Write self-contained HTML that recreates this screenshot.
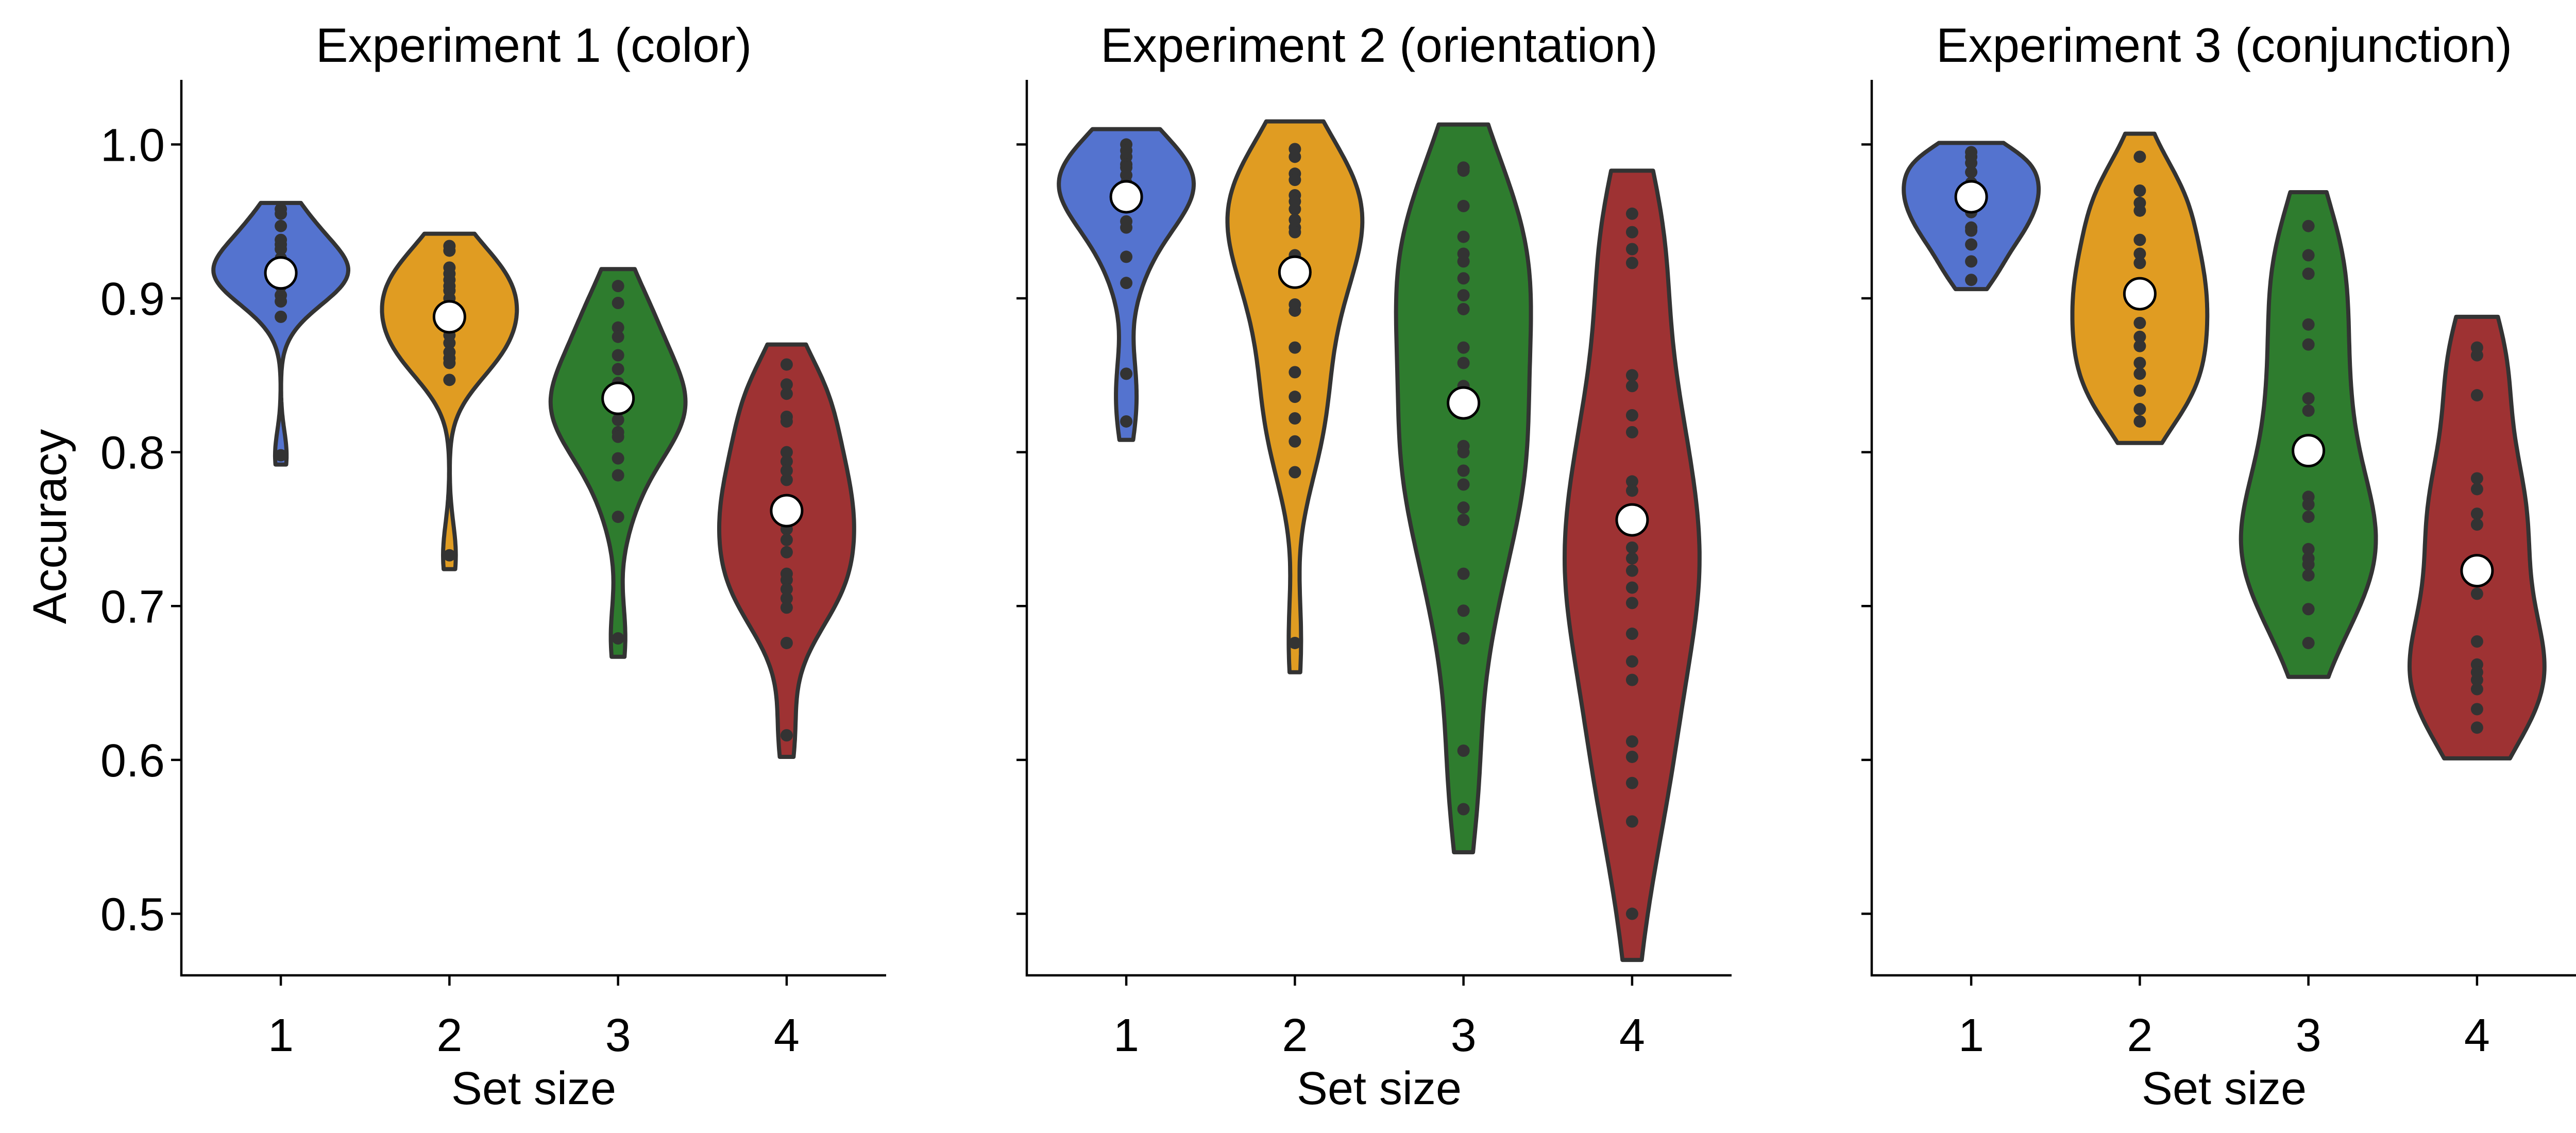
<!DOCTYPE html>
<html><head><meta charset="utf-8"><style>
html,body{margin:0;padding:0;background:#fff;}
svg{display:block;}
text{font-family:"Liberation Sans",Arial,sans-serif;fill:#000;}
</style></head><body>
<svg id="chart" xmlns="http://www.w3.org/2000/svg" width="5052" height="2199" viewBox="0 0 5052 2199"></svg>
<script>
// ---- data ----
const panelTitles = ["Experiment 1 (color)", "Experiment 2 (orientation)", "Experiment 3 (conjunction)"];
const categories = ["1", "2", "3", "4"];
const yTicks = [0.5, 0.6, 0.7, 0.8, 0.9, 1.0];
const yTickLabels = ["0.5", "0.6", "0.7", "0.8", "0.9", "1.0"];
const colors = ["#5473CF", "#E09C22", "#2E7C2E", "#9E3233"];
const means = [
  [0.9165, 0.888, 0.835, 0.762],
  [0.966, 0.917, 0.832, 0.756],
  [0.966, 0.903, 0.801, 0.723]
];
const extents = [
  [[0.792, 0.962], [0.724, 0.942], [0.667, 0.919], [0.602, 0.870]],
  [[0.808, 1.010], [0.657, 1.015], [0.540, 1.013], [0.470, 0.983]],
  [[0.906, 1.001], [0.806, 1.007], [0.654, 0.969], [0.601, 0.888]]
];
const exp1Points = [
  [0.958,0.955,0.947,0.938,0.935,0.932,0.926,0.922,0.92,0.918,0.916,0.915,0.913,0.91,0.908,0.902,0.898,0.888,0.798],
  [0.934,0.931,0.920,0.916,0.912,0.908,0.905,0.900,0.894,0.889,0.886,0.88,0.876,0.871,0.865,0.861,0.858,0.847,0.733],
  [0.908,0.897,0.881,0.875,0.863,0.854,0.845,0.838,0.835,0.83,0.827,0.821,0.813,0.810,0.796,0.785,0.758,0.679],
  [0.857,0.844,0.838,0.823,0.820,0.800,0.794,0.788,0.782,0.765,0.762,0.758,0.750,0.743,0.735,0.721,0.717,0.711,0.705,0.699,0.676,0.616]
];
const exp2Points = [
  [1.0,0.996,0.992,0.987,0.985,0.980,0.975,0.970,0.966,0.965,0.96,0.950,0.946,0.927,0.910,0.851,0.820],
  [0.997,0.992,0.981,0.977,0.967,0.963,0.958,0.951,0.946,0.943,0.928,0.917,0.912,0.896,0.892,0.868,0.852,0.836,0.822,0.807,0.787,0.676],
  [0.985,0.983,0.960,0.940,0.929,0.924,0.913,0.902,0.893,0.868,0.858,0.843,0.830,0.804,0.800,0.788,0.779,0.764,0.756,0.721,0.697,0.679,0.606,0.568],
  [0.955,0.943,0.932,0.923,0.850,0.843,0.824,0.813,0.781,0.775,0.756,0.738,0.731,0.723,0.712,0.702,0.682,0.664,0.652,0.612,0.602,0.585,0.560,0.500]
];
const exp3Points = [
  [0.995,0.992,0.988,0.982,0.975,0.97,0.966,0.96,0.956,0.946,0.944,0.935,0.924,0.912],
  [0.992,0.970,0.962,0.957,0.938,0.929,0.923,0.908,0.903,0.898,0.884,0.875,0.869,0.858,0.851,0.840,0.828,0.820],
  [0.947,0.928,0.916,0.883,0.870,0.835,0.827,0.801,0.771,0.766,0.758,0.737,0.731,0.727,0.720,0.698,0.676],
  [0.868,0.863,0.837,0.783,0.776,0.760,0.753,0.723,0.708,0.677,0.662,0.657,0.652,0.646,0.633,0.621]
];
const allPoints = [exp1Points, exp2Points, exp3Points];

// ---- layout ----
const panelLeft = [352, 1993, 3633];
const panelW = 1368, axTop = 155, axBottom = 1893;
const yMin = 0.46, yMax = 1.042;
const xMin = -0.59, xMax = 3.59;
const NS = "http://www.w3.org/2000/svg";
const svg = document.getElementById('chart');
function yScale(v){ return axBottom - (v - yMin) / (yMax - yMin) * (axBottom - axTop); }
function xScale(p, i){ return panelLeft[p] + (i - xMin) / (xMax - xMin) * panelW; }
function mk(tag, attrs, parent){
  const e = document.createElementNS(NS, tag);
  for (const k in attrs) e.setAttribute(k, attrs[k]);
  (parent || svg).appendChild(e);
  return e;
}
function kde(pts, x){
  const n = pts.length;
  const m = pts.reduce((a,b)=>a+b,0)/n;
  const sd = Math.sqrt(pts.reduce((a,b)=>a+(b-m)*(b-m),0)/(n-1));
  const bw = 0.85 * sd * Math.pow(n, -0.2);
  let s = 0;
  for (const p of pts) { const z = (x-p)/bw; s += Math.exp(-0.5*z*z); }
  return s;
}
const catStep = panelW / (xMax - xMin);
const halfMax = 0.4 * catStep;

for (let p = 0; p < 3; p++) {
  const g = mk('g', {});
  
  
  const L = panelLeft[p];
  for (let c = 0; c < 4; c++) {
    const pts = allPoints[p][c];
    const [lo, hi] = extents[p][c];
    const N = 120, ys = [], ds = [];
    for (let k = 0; k <= N; k++) { const v = lo + (hi-lo)*k/N; ys.push(v); ds.push(kde(pts, v)); }
    const dmax = Math.max(...ds);
    const cx = xScale(p, c);
    let d = '';
    for (let k = 0; k <= N; k++) d += (k ? 'L' : 'M') + (cx + ds[k]/dmax*halfMax).toFixed(1) + ',' + yScale(ys[k]).toFixed(1);
    for (let k = N; k >= 0; k--) d += 'L' + (cx - ds[k]/dmax*halfMax).toFixed(1) + ',' + yScale(ys[k]).toFixed(1);
    d += 'Z';
    const vp = mk('path', {d: d, fill: colors[c], stroke: '#333', 'stroke-width': 8, 'stroke-linejoin': 'round'}, g);
    
    
    for (const v of pts) {
      const dot = mk('circle', {cx: cx, cy: yScale(v), r: 12, fill: '#333'}, g);
      
      
    }
    const mc = mk('circle', {cx: cx, cy: yScale(means[p][c]), r: 30, fill: '#fff', stroke: '#000', 'stroke-width': 5}, g);
    
    
  }
  const sp = mk('path', {d: `M${L},${axTop}V${axBottom}H${L+panelW}`, fill: 'none', stroke: '#000', 'stroke-width': 4.5}, g);
  
  
  for (let t = 0; t < yTicks.length; t++) {
    const y = yScale(yTicks[t]);
    const tk = mk('line', {x1: L-20, x2: L, y1: y, y2: y, stroke: '#000', 'stroke-width': 4.5}, g);
    
    
    if (p === 0) {
      const tl = mk('text', {x: L-32, y: y+32, 'font-size': 90, 'text-anchor': 'end'}, g);
      tl.textContent = yTickLabels[t];
      
      
    }
  }
  for (let c = 0; c < 4; c++) {
    const x = xScale(p, c);
    const tk = mk('line', {x1: x, x2: x, y1: axBottom, y2: axBottom+20, stroke: '#000', 'stroke-width': 4.5}, g);
    
    
    const tl = mk('text', {x: x, y: 2040, 'font-size': 90, 'text-anchor': 'middle'}, g);
    tl.textContent = categories[c];
    
    
  }
  const xl = mk('text', {x: L+panelW/2, y: 2143, 'font-size': 90, 'text-anchor': 'middle'}, g);
  xl.textContent = 'Set size';
  
  
  const tt = mk('text', {x: L+panelW/2, y: 120, 'font-size': 94, 'text-anchor': 'middle'}, g);
  tt.textContent = panelTitles[p];
  
  
}
const yl = mk('text', {x: 0, y: 0, 'font-size': 92, 'text-anchor': 'middle', transform: 'translate(128,1022) rotate(-90)'});
yl.textContent = 'Accuracy';


</script>
</body></html>
